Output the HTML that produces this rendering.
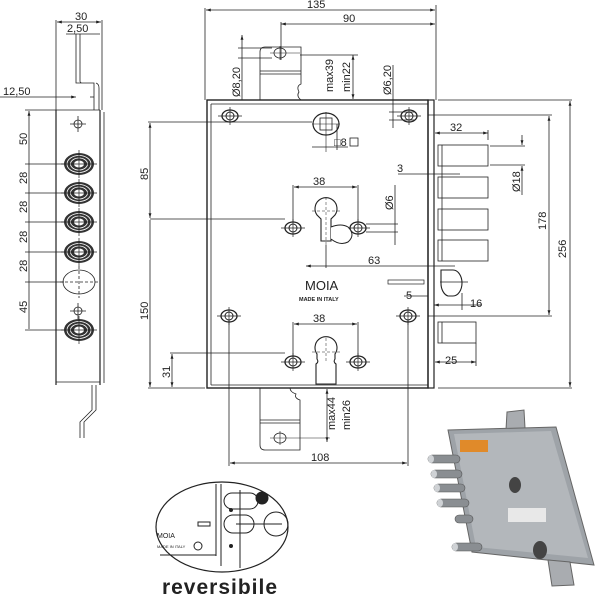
<!DOCTYPE html>
<html><head><meta charset="utf-8"><style>
html,body{margin:0;padding:0;background:#fff;}
svg{display:block;}
text{font-family:"Liberation Sans",sans-serif;fill:#222;}
</style></head><body>
<svg width="600" height="600" viewBox="0 0 600 600" xmlns="http://www.w3.org/2000/svg">
<defs>
<marker id="a" viewBox="0 0 10 10" refX="10" refY="5" markerWidth="6" markerHeight="6" orient="auto-start-reverse"><path d="M0,2 L10,5 L0,8z" fill="#222"/></marker>
<g id="hole"><ellipse cx="0" cy="0" rx="8" ry="6" fill="none" stroke="#222" stroke-width="1.3"/><circle r="4" fill="none" stroke="#222"/><path d="M-12,0H12M0,-9V9" stroke="#222" stroke-width="0.7"/></g>
<g id="ros"><ellipse rx="15" ry="11" fill="#333"/><ellipse rx="12" ry="8.5" fill="none" stroke="#fff" stroke-width="0.8"/><ellipse rx="8.5" ry="6" fill="none" stroke="#fff" stroke-width="0.8"/><ellipse rx="5" ry="3.5" fill="#fff"/><path d="M-18,0H18M0,-14V14" stroke="#222" stroke-width="0.7"/></g>
<g id="cyl"><path d="M-9,0 A11,11 0 1 1 9,0 L5,4 V26 H-5 V4 Z" fill="#fff" stroke="#222" stroke-width="1.1"/></g>
</defs>
<g stroke="#222" stroke-width="0.8" fill="none">
<line x1="205" y1="8" x2="205" y2="100"/><line x1="436" y1="5" x2="436" y2="100"/>
<line x1="206" y1="10" x2="435" y2="10" marker-start="url(#a)" marker-end="url(#a)"/>
<line x1="281" y1="24" x2="435" y2="24" marker-start="url(#a)" marker-end="url(#a)"/>
<line x1="281" y1="22" x2="281" y2="60"/>
<rect x="207" y="100" width="221" height="288" stroke-width="1.4"/>
<line x1="211" y1="104" x2="211" y2="385"/><line x1="211" y1="104" x2="428" y2="104"/>
<line x1="211" y1="385" x2="428" y2="385"/>
<rect x="428" y="100" width="6" height="288" stroke-width="1.2"/>
<path d="M260,100 V52 Q260,47 265,47 H301 V84 Q296,86 299,92 Q296,96 301,100"/>
<line x1="260" y1="71" x2="301" y2="71"/><line x1="260" y1="74" x2="301" y2="74"/>
<ellipse cx="280" cy="53" rx="6" ry="5"/><path d="M270,53H300M280,46V60" stroke-width="0.6"/>
<line x1="242" y1="35" x2="242" y2="100" marker-start="url(#a)"/>
<line x1="238" y1="48" x2="272" y2="48"/><line x1="238" y1="58" x2="272" y2="58"/>
<line x1="353" y1="55" x2="353" y2="99" marker-start="url(#a)" marker-end="url(#a)"/>
<line x1="300" y1="55" x2="358" y2="55"/>
<line x1="393" y1="65" x2="393" y2="128"/>
<line x1="389" y1="112" x2="415" y2="112"/><line x1="389" y1="120" x2="415" y2="120"/>
<path d="M260,388 V445 Q260,450 265,450 H300 V400 Q294,398 296,394 Q290,392 290,388"/>
<line x1="260" y1="420" x2="300" y2="420"/><line x1="260" y1="423" x2="300" y2="423"/>
<ellipse cx="280" cy="438" rx="6" ry="5"/><path d="M270,438H330M280,431V445" stroke-width="0.6"/>
<line x1="327" y1="389" x2="327" y2="442" marker-start="url(#a)" marker-end="url(#a)"/>
<line x1="229" y1="320" x2="229" y2="466"/><line x1="408" y1="320" x2="408" y2="466"/>
<line x1="230" y1="463" x2="407" y2="463" marker-start="url(#a)" marker-end="url(#a)"/>
<line x1="148" y1="122" x2="312" y2="122"/>
<line x1="150" y1="219" x2="285" y2="219"/>
<line x1="150" y1="123" x2="150" y2="218" marker-start="url(#a)" marker-end="url(#a)"/>
<line x1="150" y1="220" x2="150" y2="387" marker-end="url(#a)"/>
<line x1="148" y1="388" x2="205" y2="388"/>
<line x1="170" y1="353" x2="285" y2="353"/>
<line x1="172" y1="354" x2="172" y2="387" marker-start="url(#a)" marker-end="url(#a)"/>
<ellipse cx="326" cy="124" rx="13" ry="11" stroke-width="1.2"/><rect x="320" y="118" width="12" height="12"/>
<path d="M312,124H340M326,112V152" stroke-width="0.6"/>
<line x1="312" y1="147" x2="348" y2="147"/><line x1="337" y1="124" x2="337" y2="150"/>
<rect x="350" y="138" width="8" height="8"/>
<line x1="293" y1="185" x2="293" y2="222"/><line x1="358" y1="185" x2="358" y2="222"/>
<line x1="294" y1="187" x2="357" y2="187" marker-start="url(#a)" marker-end="url(#a)"/>
<line x1="293" y1="322" x2="293" y2="357"/><line x1="358" y1="322" x2="358" y2="357"/>
<line x1="294" y1="324" x2="357" y2="324" marker-start="url(#a)" marker-end="url(#a)"/>
<line x1="395" y1="185" x2="395" y2="245"/>
<line x1="366" y1="224" x2="398" y2="224"/><line x1="366" y1="232" x2="398" y2="232"/>
<line x1="326" y1="245" x2="326" y2="268"/>
<line x1="306" y1="266" x2="455" y2="266" marker-start="url(#a)"/>
<line x1="398" y1="174" x2="460" y2="174"/>
<line x1="404" y1="296" x2="428" y2="296"/>
<rect x="438" y="145" width="50" height="21"/><rect x="438" y="177" width="50" height="21"/>
<rect x="438" y="209" width="50" height="21"/><rect x="438" y="240" width="50" height="21"/>
<line x1="442" y1="145" x2="442" y2="261"/>
<rect x="438" y="322" width="38" height="21"/><line x1="442" y1="322" x2="442" y2="343"/>
<path d="M441,270 H453 A9,13 0 0 1 453,296 H448 A9,13 0 0 1 441,283 Z" stroke-width="1.1"/>
<line x1="440" y1="282" x2="468" y2="282"/>
<rect x="388" y="280" width="36" height="4" stroke-width="0.7"/>
<line x1="435" y1="133" x2="488" y2="133" marker-start="url(#a)" marker-end="url(#a)"/>
<line x1="488" y1="130" x2="488" y2="140"/>
<line x1="434" y1="305" x2="482" y2="305" marker-start="url(#a)"/>
<line x1="462" y1="293" x2="462" y2="310"/>
<line x1="435" y1="362" x2="476" y2="362" marker-start="url(#a)" marker-end="url(#a)"/>
<line x1="476" y1="343" x2="476" y2="366"/>
<line x1="490" y1="146" x2="525" y2="146"/><line x1="490" y1="165" x2="525" y2="165"/>
<line x1="522" y1="135" x2="522" y2="145" marker-end="url(#a)"/><line x1="522" y1="166" x2="522" y2="195" marker-start="url(#a)"/>
<line x1="428" y1="115" x2="552" y2="115"/><line x1="428" y1="316" x2="552" y2="316"/>
<line x1="549" y1="116" x2="549" y2="315" marker-start="url(#a)" marker-end="url(#a)"/>
<line x1="438" y1="100" x2="572" y2="100"/><line x1="438" y1="388" x2="572" y2="388"/>
<line x1="570" y1="101" x2="570" y2="387" marker-start="url(#a)" marker-end="url(#a)"/>
<line x1="56" y1="110" x2="56" y2="385" stroke-width="1.2"/><line x1="100" y1="110" x2="100" y2="385" stroke-width="1.2"/>
<line x1="56" y1="110" x2="100" y2="110"/><line x1="56" y1="382" x2="100" y2="382"/>
<line x1="104" y1="112" x2="104" y2="383"/>
<line x1="56" y1="20" x2="56" y2="110"/><line x1="102" y1="20" x2="102" y2="110"/>
<line x1="57" y1="22" x2="101" y2="22" marker-start="url(#a)" marker-end="url(#a)"/>
<line x1="66" y1="34" x2="100" y2="34"/>
<path d="M76,34 V83 H94 V110 M80,34 V81 Q80,83 82,83"/>
<path d="M96,83 Q99,84 99,88 V110"/>
<line x1="0" y1="97" x2="48" y2="97"/><line x1="48" y1="97" x2="76" y2="97" marker-end="url(#a)"/><line x1="94" y1="97" x2="90" y2="97"/>
<path d="M92,385 V410 L80,422 V438 M96,385 V410 L84,422 V438"/>
<line x1="25" y1="110" x2="56" y2="110"/>
<line x1="29" y1="111" x2="29" y2="329" marker-start="url(#a)"/>
<line x1="25" y1="164" x2="64" y2="164"/><line x1="25" y1="193" x2="64" y2="193"/>
<line x1="25" y1="222" x2="64" y2="222"/><line x1="25" y1="252" x2="64" y2="252"/>
<line x1="25" y1="282" x2="64" y2="282"/><line x1="25" y1="330" x2="64" y2="330"/>
<ellipse cx="79" cy="282" rx="16" ry="12"/><path d="M60,282H98M79,266V298" stroke-dasharray="3,2"/>
<circle cx="78" cy="124" r="4"/><path d="M70,124H86M78,116V132"/>
<circle cx="78" cy="311" r="4"/><path d="M70,311H86M78,303V319"/>
</g>
<use href="#hole" x="230" y="116"/><use href="#hole" x="409" y="116"/>
<use href="#hole" x="229" y="316"/><use href="#hole" x="408" y="316"/>
<use href="#hole" x="293" y="228"/><use href="#hole" x="358" y="228"/>
<use href="#hole" x="293" y="362"/><use href="#hole" x="358" y="362"/>
<g transform="translate(326,215)"><use href="#cyl"/><path d="M5,12 Q15,8 22,12 Q30,20 22,27 Q14,31 5,24" fill="#fff" stroke="#222"/><path d="M-14,-4H14M0,-18V30" stroke="#222" stroke-width="0.5" stroke-dasharray="3,2"/></g>
<g transform="translate(326,356)"><path d="M-9,-2 A11,11 0 1 1 9,-2 L9,3 Q7,6 10,8 V28 H-10 V8 Q-7,6 -9,3 Z" fill="#fff" stroke="#222" stroke-width="1.1"/><path d="M-14,-4H14M0,-18V6" stroke="#222" stroke-width="0.5" stroke-dasharray="3,2"/></g>
<use href="#ros" x="79" y="164"/><use href="#ros" x="79" y="193"/><use href="#ros" x="79" y="222"/><use href="#ros" x="79" y="252"/><use href="#ros" x="79" y="330"/>
<g font-size="11">
<text x="307" y="8">135</text><text x="343" y="22">90</text>
<text x="75" y="20">30</text><text x="67" y="32">2,50</text><text x="3" y="95">12,50</text>
<text x="334" y="146">□8</text><text x="313" y="185">38</text><text x="313" y="322">38</text>
<text x="397" y="172">3</text><text x="368" y="264">63</text><text x="406" y="299">5</text>
<text x="470" y="307">16</text><text x="450" y="131">32</text><text x="445" y="364">25</text>
<text x="311" y="461">108</text>
<text transform="translate(240,97) rotate(-90)">Ø8,20</text>
<text transform="translate(333,92) rotate(-90)">max39</text>
<text transform="translate(350,92) rotate(-90)">min22</text>
<text transform="translate(391,95) rotate(-90)">Ø6,20</text>
<text transform="translate(393,210) rotate(-90)">Ø6</text>
<text transform="translate(520,192) rotate(-90)">Ø18</text>
<text transform="translate(546,230) rotate(-90)">178</text>
<text transform="translate(566,258) rotate(-90)">256</text>
<text transform="translate(148,180) rotate(-90)">85</text>
<text transform="translate(148,320) rotate(-90)">150</text>
<text transform="translate(170,378) rotate(-90)">31</text>
<text transform="translate(335,430) rotate(-90)">max44</text>
<text transform="translate(350,430) rotate(-90)">min26</text>
<text transform="translate(27,145) rotate(-90)">50</text>
<text transform="translate(27,184) rotate(-90)">28</text>
<text transform="translate(27,213) rotate(-90)">28</text>
<text transform="translate(27,243) rotate(-90)">28</text>
<text transform="translate(27,272) rotate(-90)">28</text>
<text transform="translate(27,313) rotate(-90)">45</text>
</g>
<text x="305" y="290" font-size="13">MOIA</text>
<text x="299" y="301" font-size="5.5" font-weight="bold">MADE IN ITALY</text>
<g stroke="#222" fill="none">
<ellipse cx="222" cy="527" rx="66" ry="45" stroke-width="1.2"/>
<path d="M216,484 V556 M221,484 V566 M240,490 V568 M160,555 H216" stroke-width="1"/>
<rect x="224" y="493" width="34" height="16" rx="8"/><circle cx="262" cy="498" r="6" fill="#222"/>
<rect x="224" y="515" width="30" height="18" rx="9"/><line x1="236" y1="524" x2="282" y2="524"/>
<circle cx="276" cy="524" r="12"/>
<rect x="198" y="522" width="12" height="4"/><circle cx="198" cy="546" r="4"/>
<circle cx="231" cy="510" r="1.5" fill="#222"/><circle cx="231" cy="546" r="1.5" fill="#222"/>
</g>
<text x="157" y="538" font-size="7">MOIA</text>
<text x="157" y="548" font-size="4">MADE IN ITALY</text>
<text x="220" y="594" font-size="21" font-weight="bold" text-anchor="middle" letter-spacing="1">reversibile</text>
<g>
<path d="M507,412 L524,410 L525,428 L506,430Z" fill="#a9acb0" stroke="#666"/>
<path d="M448,430 L556,427 L594,565 L472,552Z" fill="#9ea3a8" stroke="#666"/>
<path d="M454,434 L551,431 L588,558 L476,547Z" fill="#b3b7bb"/>
<path d="M548,560 L570,562 L574,585 L552,586Z" fill="#a9acb0" stroke="#666"/>
<rect x="460" y="440" width="28" height="12" fill="#e08a2a"/>
<rect x="508" y="508" width="38" height="14" fill="#e8e8e8"/>
<ellipse cx="515" cy="485" rx="6" ry="8" fill="#444"/>
<ellipse cx="540" cy="550" rx="7" ry="9" fill="#444"/>
<g fill="#8a8e92" stroke="#555" stroke-width="0.6">
<rect x="428" y="455" width="32" height="8" rx="4"/><rect x="431" y="470" width="31" height="8" rx="4"/>
<rect x="434" y="484" width="31" height="8" rx="4"/><rect x="437" y="499" width="32" height="8" rx="4"/>
<rect x="455" y="515" width="18" height="8" rx="4"/><rect x="452" y="543" width="30" height="8" rx="4"/>
</g>
<g fill="#cfd2d5"><ellipse cx="431" cy="459" rx="3" ry="4"/><ellipse cx="434" cy="474" rx="3" ry="4"/><ellipse cx="437" cy="488" rx="3" ry="4"/><ellipse cx="440" cy="503" rx="3" ry="4"/><ellipse cx="455" cy="547" rx="3" ry="4"/></g>
</g>
</svg>
</body></html>
